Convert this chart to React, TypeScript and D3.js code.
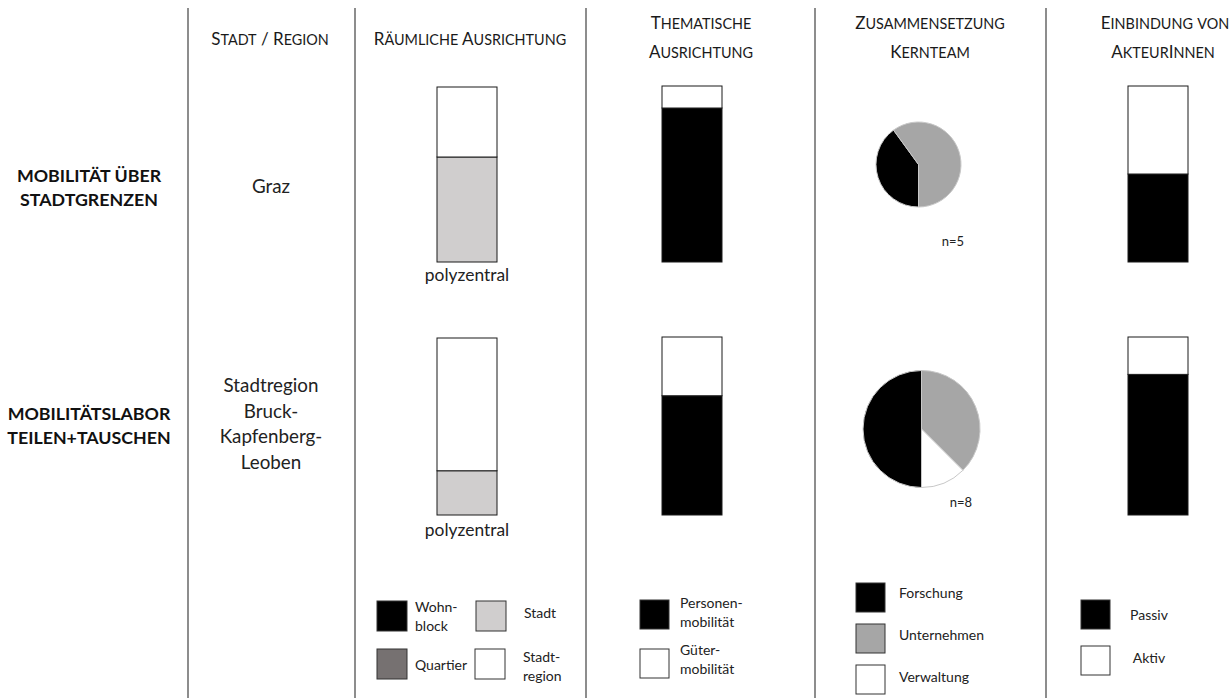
import React from "react";
import * as d3 from "d3";

// ---------- DATA ----------
const rows = ["Mobilität über Stadtgrenzen", "Mobilitätslabor Teilen+Tauschen"];
const rowLabelLines = [["MOBILITÄT ÜBER", "STADTGRENZEN"], ["MOBILITÄTSLABOR", "TEILEN+TAUSCHEN"]];
const regionLines = [["Graz"], ["Stadtregion", "Bruck-", "Kapfenberg-", "Leoben"]];
const headers = [
  ["Stadt / Region"],
  ["Räumliche Ausrichtung"],
  ["Thematische", "Ausrichtung"],
  ["Zusammensetzung", "Kernteam"],
  ["Einbindung von", "AkteurInnen"],
];

const spatialCategories = ["Wohnblock", "Quartier", "Stadt", "Stadtregion"];
const spatialValues = [
  [0, 0, 60, 40],
  [0, 0, 25, 75],
];
const spatialNote = ["polyzentral", "polyzentral"];

const thematicCategories = ["Personenmobilität", "Gütermobilität"];
const thematicValues = [
  [87.5, 12.5],
  [67, 33],
];

const teamCategories = ["Forschung", "Unternehmen", "Verwaltung"];
const teamCounts = [
  [2, 3, 0],
  [4, 3, 1],
];
const teamN = ["n=5", "n=8"];

const actorCategories = ["Passiv", "Aktiv"];
const actorValues = [
  [50, 50],
  [79, 21],
];

// ---------- STYLE / LAYOUT ----------
const W = 1231;
const H = 698;
const FONT = "Lato, 'Open Sans', sans-serif";
const spatialColors: Record<string, string> = {
  Wohnblock: "#000000",
  Quartier: "#767171",
  Stadt: "#d0cece",
  Stadtregion: "#ffffff",
};
const thematicColors: Record<string, string> = { Personenmobilität: "#000000", Gütermobilität: "#ffffff" };
const teamColors: Record<string, string> = { Forschung: "#000000", Unternehmen: "#a6a6a6", Verwaltung: "#ffffff" };
const actorColors: Record<string, string> = { Passiv: "#000000", Aktiv: "#ffffff" };

const dividerX = [188, 355, 586, 815, 1046];
const barW = 60;
const barCenters = { spatial: 467, thematic: 692, actor: 1158 };
const rowBar = [
  { top: 86, bottom: 262 },
  { top: 337, bottom: 515 },
];
const pieGeom = [
  { cx: 918.5, cy: 164.5, r: 42.5, nx: 953, ny: 246 },
  { cx: 921.5, cy: 429, r: 58.5, nx: 961, ny: 507 },
];

function SmallCaps({ text, x, y, big = 17, small = 14.4 }: { text: string; x: number; y: number; big?: number; small?: number }) {
  const runs: { t: string; s: number }[] = [];
  for (const ch of text) {
    const isLower = ch !== ch.toUpperCase();
    const s = isLower ? small : big;
    const t = ch.toUpperCase();
    if (runs.length && runs[runs.length - 1].s === s) runs[runs.length - 1].t += t;
    else runs.push({ t, s });
  }
  return (
    <text x={x} y={y} textAnchor="middle" fontFamily={FONT} fill="#1a1a1a">
      {runs.map((r, i) => (
        <tspan key={i} fontSize={r.s}>
          {r.t}
        </tspan>
      ))}
    </text>
  );
}

function StackBar({ cats, vals, colors, cx, top, bottom }: any) {
  const y = d3.scaleLinear().domain([0, 100]).range([bottom, top]);
  let acc = 0;
  const segs = cats.map((c: string, i: number) => {
    const y0 = acc;
    acc += vals[i];
    return { c, y0, y1: acc };
  });
  return (
    <g>
      {segs
        .filter((s: any) => s.y1 > s.y0)
        .map((s: any) => (
          <rect
            key={s.c}
            x={cx - barW / 2}
            y={y(s.y1)}
            width={barW}
            height={y(s.y0) - y(s.y1)}
            fill={colors[s.c]}
            stroke="#1a1a1a"
            strokeWidth={1}
          />
        ))}
    </g>
  );
}

function Pie({ counts, g }: any) {
  const pie = d3
    .pie<number>()
    .sort(null)
    .startAngle(Math.PI)
    .endAngle(3 * Math.PI)
    .value((d) => d);
  const arc = d3.arc<any>().innerRadius(0).outerRadius(g.r);
  const arcs = pie(counts);
  return (
    <g transform={`translate(${g.cx},${g.cy})`}>
      {arcs
        .filter((a) => a.value > 0)
        .map((a, i) => (
          <path key={i} d={arc(a) as string} fill={teamColors[teamCategories[a.index]]} stroke="#c8c8c8" strokeWidth={1} />
        ))}
    </g>
  );
}

function LegendBox({ x, y, size = 30, fill }: any) {
  return <rect x={x} y={y} width={size} height={size} fill={fill} stroke="#333" strokeWidth={1} />;
}

function LegendText({ x, y, lines, anchor = "start" }: any) {
  return (
    <text x={x} y={y} fontFamily={FONT} fontSize={14} fill="#222" textAnchor={anchor}>
      {lines.map((l: string, i: number) => (
        <tspan key={i} x={x} dy={i === 0 ? 0 : 18.5}>
          {l}
        </tspan>
      ))}
    </text>
  );
}

export default function App() {
  return (
    <svg width={W} height={H} style={{ position: "absolute", left: 0, top: 0, background: "#fff" }}>
      <rect width={W} height={H} fill="#fff" />
      {/* dividers */}
      {dividerX.map((x) => (
        <line key={x} x1={x} x2={x} y1={8} y2={H} stroke="#505050" strokeWidth={1.3} />
      ))}

      {/* headers */}
      <SmallCaps text={headers[0][0]} x={270} y={45} />
      <SmallCaps text={headers[1][0]} x={470} y={45} />
      <SmallCaps text={headers[2][0]} x={701} y={29} />
      <SmallCaps text={headers[2][1]} x={701} y={58} />
      <SmallCaps text={headers[3][0]} x={930} y={29} />
      <SmallCaps text={headers[3][1]} x={930} y={58} />
      <SmallCaps text={headers[4][0]} x={1165} y={29} />
      <SmallCaps text={headers[4][1]} x={1163} y={58} />

      {/* row labels */}
      {rows.map((r, ri) =>
        rowLabelLines[ri].map((l, li) => (
          <text
            key={r + li}
            x={89}
            y={(ri === 0 ? 182 : 420) + li * 24}
            textAnchor="middle"
            fontFamily={FONT}
            fontWeight={700}
            fontSize={17.8}
            fill="#111"
          >
            {l}
          </text>
        ))
      )}

      {/* region names */}
      {regionLines.map((lines, ri) =>
        lines.map((l, li) => (
          <text
            key={ri + "-" + li}
            x={271}
            y={(ri === 0 ? 193 : 392) + li * 25.5}
            textAnchor="middle"
            fontFamily={FONT}
            fontSize={18.8}
            fill="#222"
          >
            {l}
          </text>
        ))
      )}

      {/* bars */}
      {rows.map((r, ri) => (
        <g key={r}>
          <StackBar
            cats={spatialCategories}
            vals={spatialValues[ri]}
            colors={spatialColors}
            cx={barCenters.spatial}
            top={rowBar[ri].top + 1}
            bottom={rowBar[ri].bottom}
          />
          <text x={barCenters.spatial} y={ri === 0 ? 281 : 536} textAnchor="middle" fontFamily={FONT} fontSize={17.4} fill="#222">
            {spatialNote[ri]}
          </text>
          <StackBar
            cats={thematicCategories}
            vals={thematicValues[ri]}
            colors={thematicColors}
            cx={barCenters.thematic}
            top={rowBar[ri].top}
            bottom={rowBar[ri].bottom}
          />
          <StackBar
            cats={actorCategories}
            vals={actorValues[ri]}
            colors={actorColors}
            cx={barCenters.actor}
            top={rowBar[ri].top}
            bottom={rowBar[ri].bottom}
          />
          <Pie counts={teamCounts[ri]} g={pieGeom[ri]} />
          <text x={pieGeom[ri].nx} y={pieGeom[ri].ny} textAnchor="middle" fontFamily={FONT} fontSize={13} fill="#222">
            {teamN[ri]}
          </text>
        </g>
      ))}

      {/* legend: spatial */}
      <LegendBox x={377} y={601} fill={spatialColors["Wohnblock"]} />
      <LegendText x={415} y={612} lines={["Wohn-", "block"]} />
      <LegendBox x={476} y={601} fill={spatialColors["Stadt"]} />
      <LegendText x={524} y={618} lines={["Stadt"]} />
      <LegendBox x={377} y={649} fill={spatialColors["Quartier"]} />
      <LegendText x={415} y={670} lines={["Quartier"]} />
      <LegendBox x={475} y={649} fill={spatialColors["Stadtregion"]} />
      <LegendText x={523} y={662} lines={["Stadt-", "region"]} />

      {/* legend: thematic */}
      <LegendBox x={640} y={600} size={29} fill={thematicColors["Personenmobilität"]} />
      <LegendText x={680} y={608} lines={["Personen-", "mobilität"]} />
      <LegendBox x={640} y={649} size={29} fill={thematicColors["Gütermobilität"]} />
      <LegendText x={680} y={655} lines={["Güter-", "mobilität"]} />

      {/* legend: team */}
      {teamCategories.map((c, i) => (
        <g key={c}>
          <LegendBox x={856} y={583 + i * 41} size={29} fill={teamColors[c]} />
          <LegendText x={899} y={598 + i * 42} lines={[c]} />
        </g>
      ))}

      {/* legend: actor */}
      {actorCategories.map((c, i) => (
        <g key={c}>
          <LegendBox x={1081} y={600 + i * 46} size={29} fill={actorColors[c]} />
          <LegendText x={1149} y={620 + i * 43} lines={[c]} anchor="middle" />
        </g>
      ))}
    </svg>
  );
}
